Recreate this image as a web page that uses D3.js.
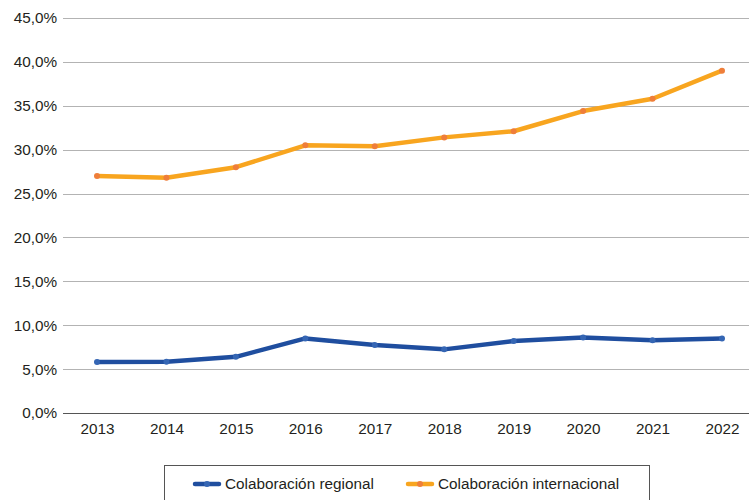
<!DOCTYPE html>
<html>
<head>
<meta charset="utf-8">
<script src="https://cdn.jsdelivr.net/npm/d3@7"></script>
<style>
  body { margin: 0; background: #fff; }
  text { font-family: "Liberation Sans", Arial, sans-serif; }
</style>
</head>
<body>
<div id="chart"></div>
<script>
// Data
var years = ["2013", "2014", "2015", "2016", "2017", "2018", "2019", "2020", "2021", "2022"];
var regional = [5.8, 5.85, 6.4, 8.5, 7.75, 7.25, 8.2, 8.6, 8.3, 8.5];
var internacional = [27.0, 26.8, 28.0, 30.5, 30.4, 31.4, 32.1, 34.4, 35.8, 39.0];
var yTicks = [0, 5, 10, 15, 20, 25, 30, 35, 40, 45];
var seriesNames = ["Colaboración regional", "Colaboración internacional"];

function Linechart() {
  var w = 749;
  var h = 500;
  var left = 63, right = 749, top = 18, bottom = 413;
  var fs = 15.3;

  var svg = d3.select("#chart").append("svg")
    .attr("width", w)
    .attr("height", h);

  var xScale = d3.scalePoint()
    .domain(years)
    .range([97, 722]);
  var yScale = d3.scaleLinear()
    .domain([0, 45])
    .range([bottom, top]);

  // horizontal gridlines + y labels
  var yAxis = d3.axisLeft(yScale)
    .tickValues(yTicks)
    .tickSize(-(right - left))
    .tickPadding(6)
    .tickFormat(function (d) { return d.toFixed(1).replace(".", ",") + "%"; });
  var gy = svg.append("g")
    .attr("transform", "translate(" + left + ",0)")
    .call(yAxis);
  gy.select(".domain").remove();
  gy.selectAll(".tick line")
    .attr("stroke", "#b3b3b3")
    .attr("shape-rendering", "crispEdges");
  gy.selectAll(".tick text")
    .attr("font-size", fs)
    .attr("fill", "#231f20");

  // bottom axis
  var xAxis = d3.axisBottom(xScale).tickSize(0).tickPadding(10);
  var gx = svg.append("g")
    .attr("transform", "translate(0," + bottom + ")")
    .call(xAxis);
  gx.select(".domain")
    .attr("d", "M" + left + ",0H" + right)
    .attr("stroke", "#555")
    .attr("shape-rendering", "crispEdges");
  gx.selectAll(".tick text")
    .attr("font-size", fs)
    .attr("fill", "#231f20");

  var line = d3.line()
    .x(function (d, i) { return xScale(years[i]); })
    .y(function (d) { return yScale(d); });

  var series = [
    { values: regional, color: "#1f4e9f", dot: "#3566b4" },
    { values: internacional, color: "#f8a51f", dot: "#ef7e3a" }
  ];

  series.forEach(function (s) {
    svg.append("path")
      .datum(s.values)
      .attr("fill", "none")
      .attr("stroke", s.color)
      .attr("stroke-width", 4.5)
      .attr("stroke-linejoin", "round")
      .attr("d", line);
    svg.selectAll(null)
      .data(s.values)
      .enter()
      .append("circle")
      .attr("cx", function (d, i) { return xScale(years[i]); })
      .attr("cy", function (d) { return yScale(d); })
      .attr("r", 3)
      .attr("fill", s.dot);
  });

  // legend
  var legend = svg.append("g");
  legend.append("rect")
    .attr("x", 164.5)
    .attr("y", 465.5)
    .attr("width", 485)
    .attr("height", 40)
    .attr("fill", "none")
    .attr("stroke", "#555");
  var items = [
    { x: 195, color: series[0].color, dot: series[0].dot, name: seriesNames[0] },
    { x: 408, color: series[1].color, dot: series[1].dot, name: seriesNames[1] }
  ];
  items.forEach(function (it) {
    legend.append("line")
      .attr("x1", it.x).attr("x2", it.x + 24)
      .attr("y1", 484).attr("y2", 484)
      .attr("stroke", it.color)
      .attr("stroke-width", 4.5)
      .attr("stroke-linecap", "round");
    legend.append("circle")
      .attr("cx", it.x + 12).attr("cy", 484).attr("r", 3)
      .attr("fill", it.dot);
    legend.append("text")
      .attr("x", it.x + 30)
      .attr("y", 489)
      .attr("font-size", fs)
      .attr("fill", "#231f20")
      .text(it.name);
  });
}
window.onload = Linechart;
</script>
</body>
</html>
